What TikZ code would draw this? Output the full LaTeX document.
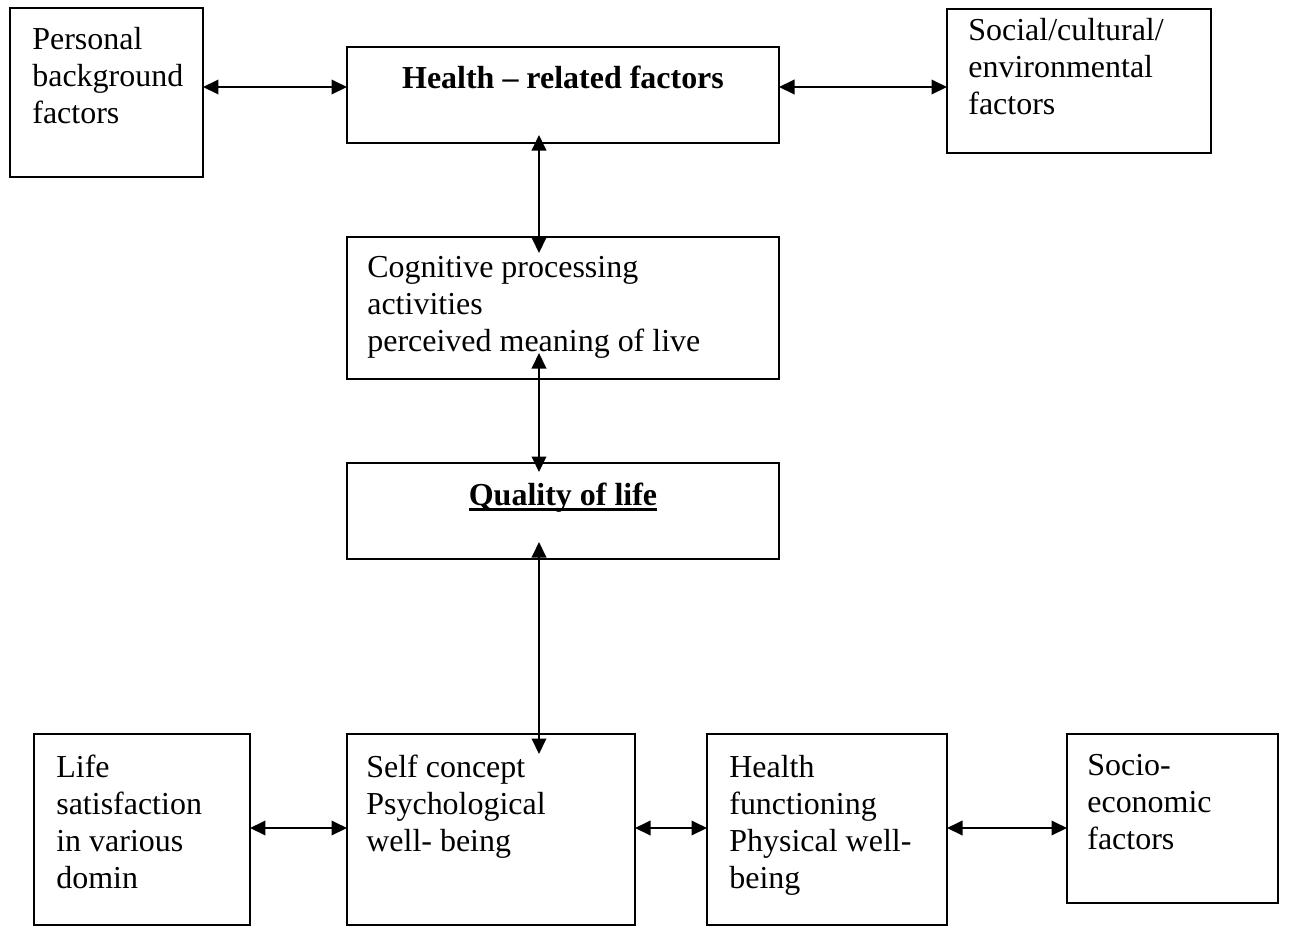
\documentclass[tikz,border=0pt]{standalone}
\usepackage{fontspec}
\setmainfont{Liberation Serif}
\usetikzlibrary{arrows.meta, positioning}

\newcommand{\boxlines}[1]{\begin{tabular}[t]{@{}l@{}}#1\end{tabular}}

\tikzset{
    box/.style 2 args={draw, line width=1.1pt, inner sep=0pt, outer sep=0pt,
        minimum width=#1*0.02cm, minimum height=#2*0.02cm},
    txt/.style={anchor=base west, inner sep=0pt,
        font=\fontsize{18.2}{21.1}\selectfont},
    title/.style={anchor=base, inner sep=0pt,
        font=\fontsize{18.2}{21.1}\selectfont\bfseries},
    dbl/.style={{Triangle[length=0.31cm,width=0.29cm]}-{Triangle[length=0.31cm,width=0.29cm]}, line width=1.1pt}
}

\begin{document}
\begin{tikzpicture}[x=0.02cm, y=0.02cm]
    \useasboundingbox (0,0) rectangle (1292,-927);

    % top row
    \node[box={193}{169}] (pers) at (106.5,-92.5) {};
    \node[box={432}{96}]  (hrf)  at (563,-95) {};
    \node[box={264}{144}] (soc)  at (1079,-81) {};

    % middle column
    \node[box={432}{142}] (cog)  at (563,-308) {};
    \node[box={432}{96}]  (qol)  at (563,-511) {};

    % bottom row
    \node[box={216}{191}] (life) at (142,-829.5) {};
    \node[box={288}{191}] (self) at (491,-829.5) {};
    \node[box={240}{191}] (hf)   at (827,-829.5) {};
    \node[box={211}{169}] (seco) at (1172.5,-818.5) {};

    % texts
    \node[txt] (tpers) at ([shift={(22,-41)}]pers.north west) {\boxlines{Personal\\background\\factors}};
    \node[title] (thrf) at ([yshift=-41*0.02cm]hrf.north) {Health -- related factors};
    \node[txt] (tsoc) at ([shift={(21,-31)}]soc.north west) {\boxlines{Social/cultural/\\environmental\\factors}};
    \node[txt] (tcog) at ([shift={(20,-40)}]cog.north west) {\boxlines{Cognitive processing\\activities\\perceived meaning of live}};
    \node[title] (tqol) at ([yshift=-42*0.02cm]qol.north) {Quality of life};
    \draw[line width=1.6pt] ([yshift=-2.4pt]tqol.base west) -- ([yshift=-2.4pt]tqol.base east);
    \node[txt] (tlife) at ([shift={(22,-43)}]life.north west) {\boxlines{Life\\satisfaction\\in various\\domin}};
    \node[txt] (tself) at ([shift={(19,-43)}]self.north west) {\boxlines{Self concept\\Psychological\\well- being}};
    \node[txt] (thf) at ([shift={(22,-43)}]hf.north west) {\boxlines{Health\\functioning\\Physical well-\\being}};
    \node[txt] (tseco) at ([shift={(20,-41)}]seco.north west) {\boxlines{Socio-\\economic\\factors}};

    % connectors
    \coordinate (ytop) at (0,-87);
    \coordinate (ybot) at (0,-828);
    \coordinate (xmid) at (539,0);

    \draw[dbl] (pers.east |- ytop) -- (hrf.west |- ytop);
    \draw[dbl] (hrf.east |- ytop) -- (soc.west |- ytop);

    \draw[dbl] ([yshift=8*0.02cm]hrf.south -| xmid) -- ([yshift=-16*0.02cm]cog.north -| xmid);
    \draw[dbl] ([yshift=26*0.02cm]cog.south -| xmid) -- ([yshift=-9*0.02cm]qol.north -| xmid);
    \draw[dbl] ([yshift=17*0.02cm]qol.south -| xmid) -- ([yshift=-20*0.02cm]self.north -| xmid);

    \draw[dbl] (life.east |- ybot) -- (self.west |- ybot);
    \draw[dbl] (self.east |- ybot) -- (hf.west |- ybot);
    \draw[dbl] (hf.east |- ybot) -- (seco.west |- ybot);
\end{tikzpicture}
\end{document}
